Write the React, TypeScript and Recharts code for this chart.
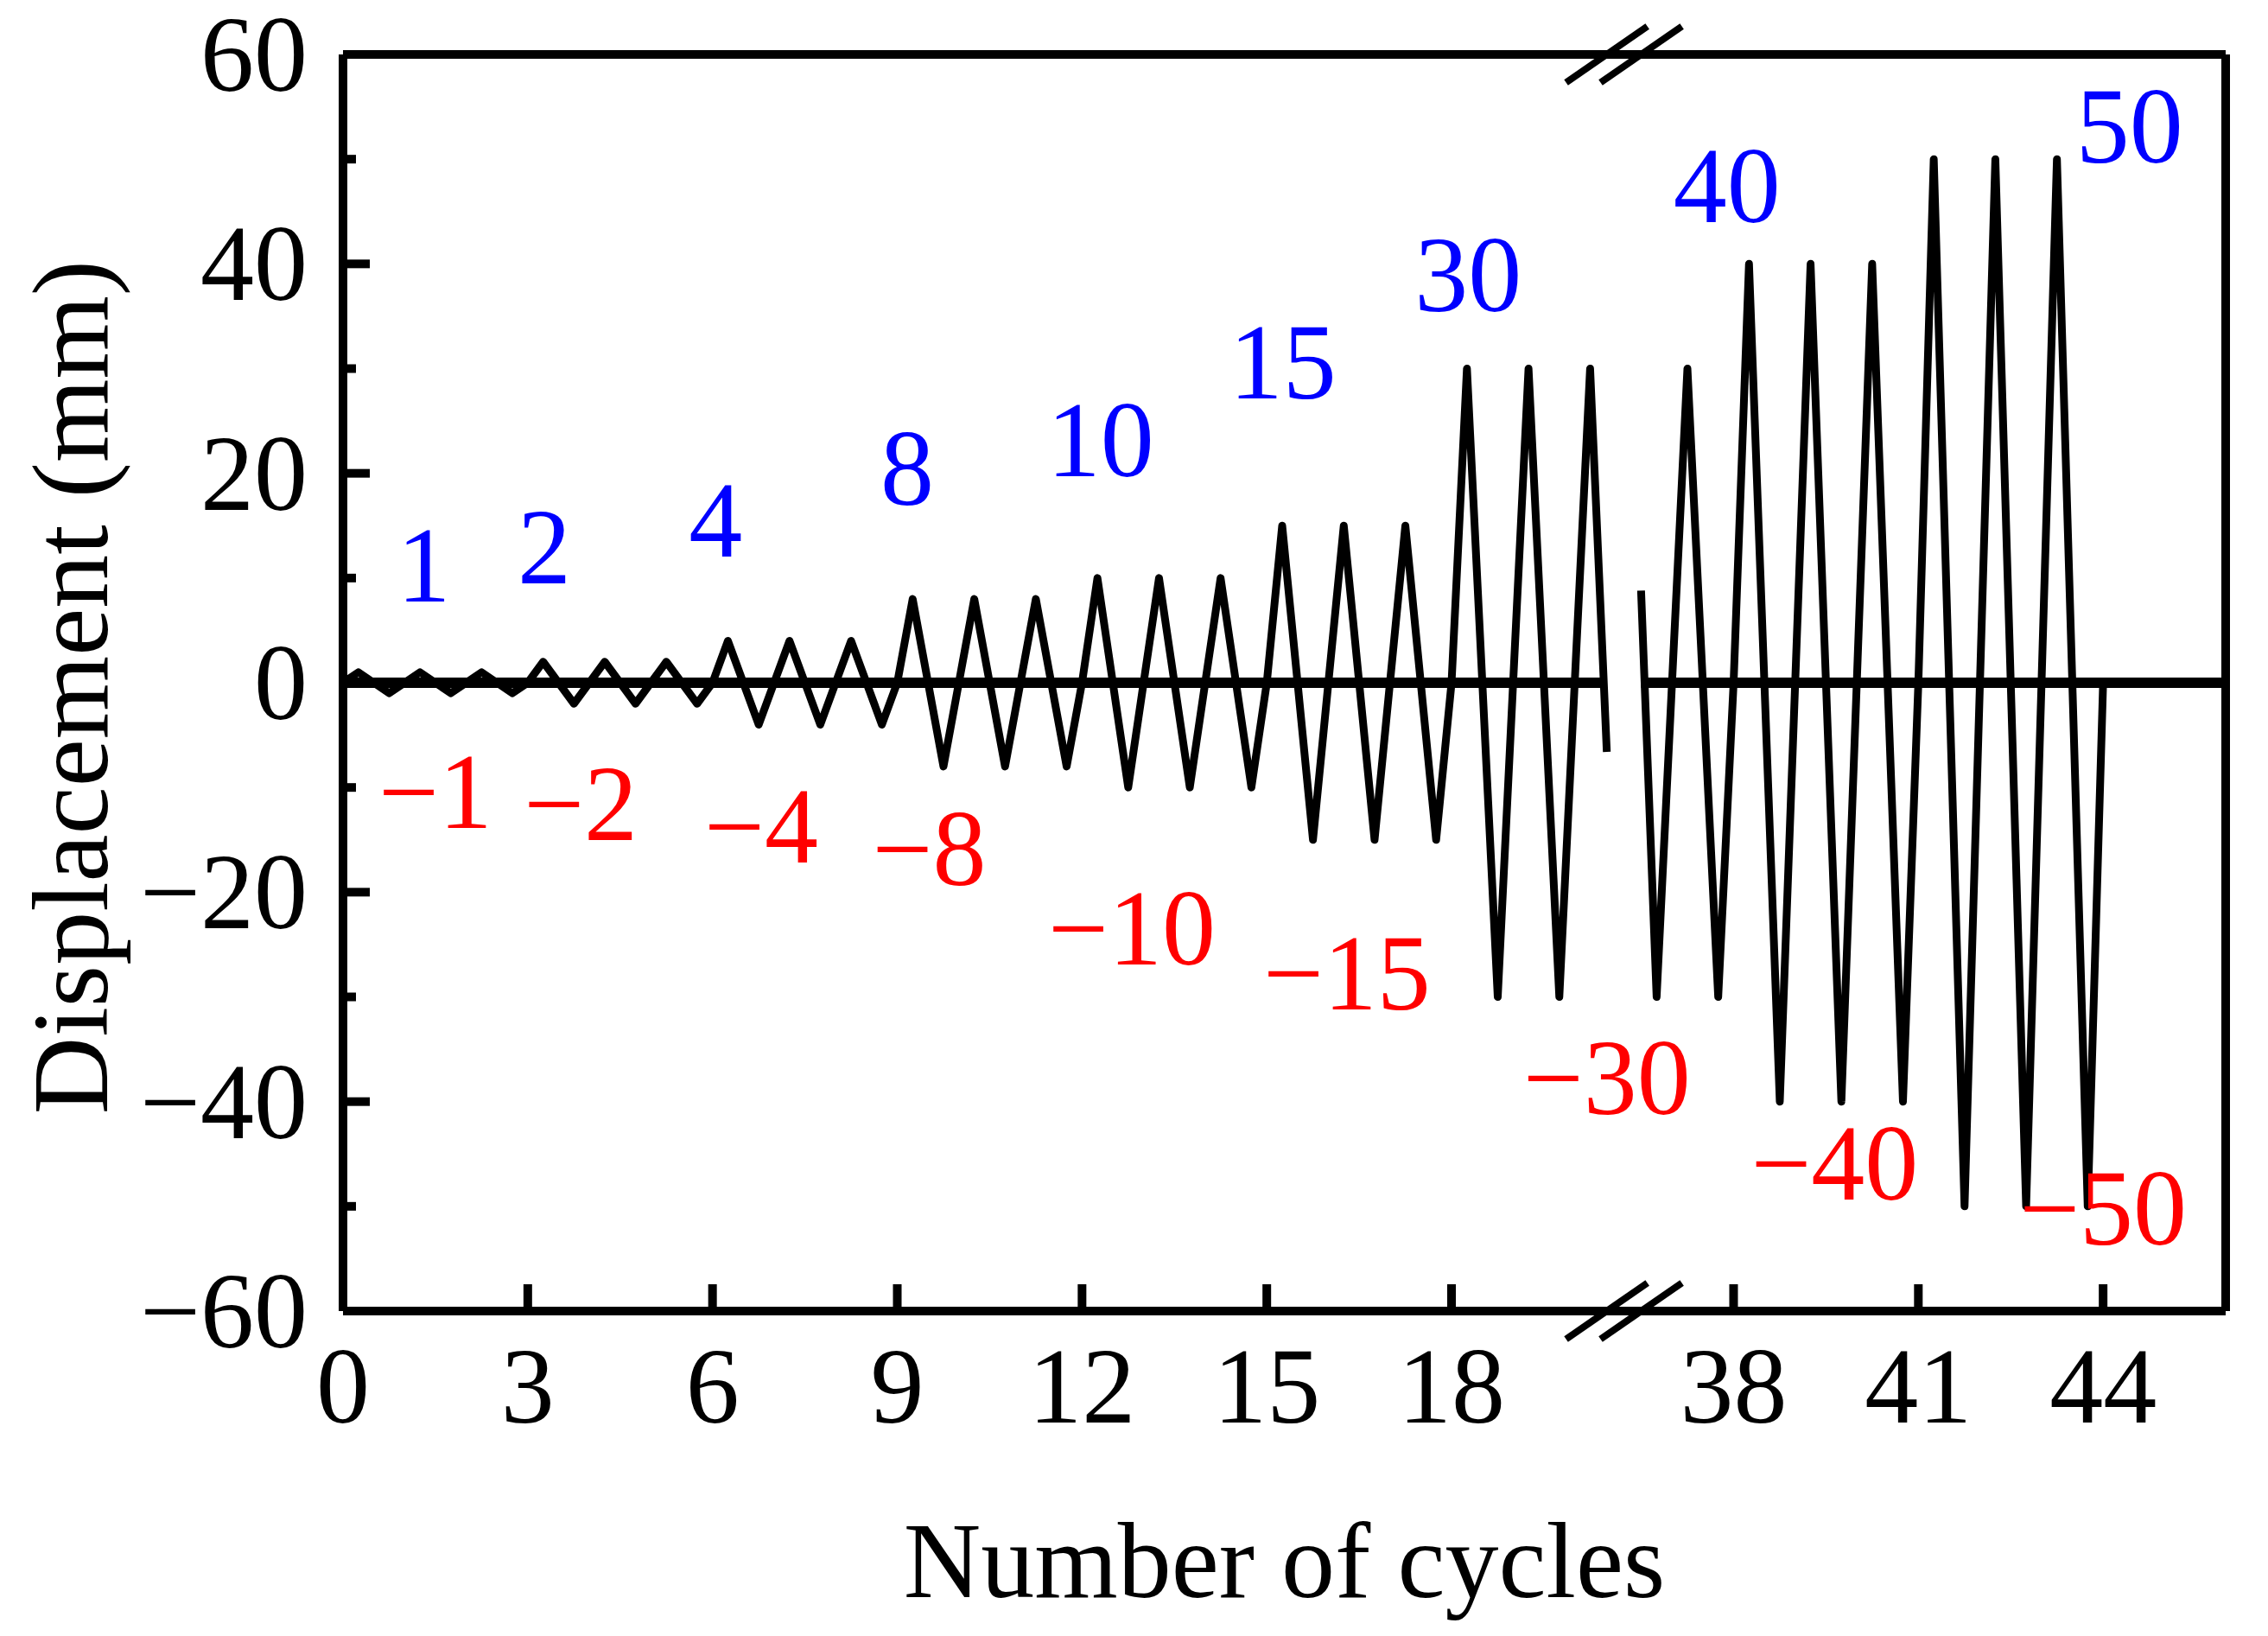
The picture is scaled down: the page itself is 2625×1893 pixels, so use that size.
import React from 'react';
import { ComposedChart, Line, Scatter, XAxis, YAxis, ReferenceLine } from 'recharts';

const ampsBeforeBreak = [1, 1, 1, 2, 2, 2, 4, 4, 4, 8, 8, 8, 10, 10, 10, 15, 15, 15, 30, 30, 30]; // cycles 0-20
const ampsAfterBreak = [30, 30, 40, 40, 40, 50, 50, 50]; // cycles 36-43
const firstCycleAfterBreak = 36;

// where the trace is cut by the axis break
const traceEndBefore = { cycle: 20.55, disp: -6.6 };
const traceStartAfter = { cycle: 36.43, disp: 8.8 };

// hidden cycle range and the gap it keeps on the axis
const breakFrom = 20.52;
const breakTo = 36.5;
const breakGap = 0.56;
const xMaxCycle = 45.99;

const xTickCycles = [0, 3, 6, 9, 12, 15, 18, 38, 41, 44];
const yMajorTicks = [-60, -40, -20, 0, 20, 40, 60];
const yMinorTicks = [-50, -30, -10, 10, 30, 50];

const positiveLabels = [
  { text: '1', cycle: 1.31, disp: 11.2 },
  { text: '2', cycle: 3.27, disp: 13.0 },
  { text: '4', cycle: 6.05, disp: 15.5 },
  { text: '8', cycle: 9.16, disp: 20.5 },
  { text: '10', cycle: 12.3, disp: 23.2 },
  { text: '15', cycle: 15.26, disp: 30.6 },
  { text: '30', cycle: 18.27, disp: 39.0 },
  { text: '40', cycle: 37.89, disp: 47.5 },
  { text: '50', cycle: 44.43, disp: 53.2 },
];

const negativeLabels = [
  { text: '\u22121', cycle: 1.5, disp: -10.4 },
  { text: '\u22122', cycle: 3.86, disp: -11.5 },
  { text: '\u22124', cycle: 6.79, disp: -13.7 },
  { text: '\u22128', cycle: 9.52, disp: -15.8 },
  { text: '\u221210', cycle: 12.81, disp: -23.4 },
  { text: '\u221215', cycle: 16.3, disp: -27.7 },
  { text: '\u221230', cycle: 20.58, disp: -37.7 },
  { text: '\u221240', cycle: 39.64, disp: -45.9 },
  { text: '\u221250', cycle: 44.0, disp: -50.2 },
];

const FONT = '"Liberation Serif", "Times New Roman", serif';
const FS = 124;

const shift = breakTo - breakFrom - breakGap;
const toAxis = (c: number) =>
  c <= breakFrom ? c : c >= breakTo ? c - shift : breakFrom + ((c - breakFrom) * breakGap) / (breakTo - breakFrom);
const fromAxis = (p: number) => (p <= breakFrom ? p : p + shift);

type Pt = { cycle: number; disp: number };

const wave = (first: number, amps: number[]): Pt[] => {
  const pts: Pt[] = [];
  amps.forEach((a, i) => {
    const n = first + i;
    pts.push({ cycle: n, disp: 0 }, { cycle: n + 0.25, disp: a }, { cycle: n + 0.75, disp: -a });
  });
  pts.push({ cycle: first + amps.length, disp: 0 });
  return pts;
};

const toRows = (pts: Pt[]) => pts.map((p) => ({ pos: toAxis(p.cycle), disp: p.disp }));

const beforeData = toRows([
  ...wave(0, ampsBeforeBreak).filter((p) => p.cycle < traceEndBefore.cycle),
  traceEndBefore,
]);
const afterData = toRows([
  traceStartAfter,
  ...wave(firstCycleAfterBreak, ampsAfterBreak).filter((p) => p.cycle > traceStartAfter.cycle),
]);

const posLabelRows = positiveLabels.map((l) => ({ pos: toAxis(l.cycle), disp: l.disp, text: l.text }));
const negLabelRows = negativeLabels.map((l) => ({ pos: toAxis(l.cycle), disp: l.disp, text: l.text }));

const xMax = toAxis(xMaxCycle);
const fmt = (v: number) => (v < 0 ? `\u2212${-v}` : `${v}`);

const Y_GAP = 41;
const X_GAP = 41;
const AXIS_W = 10;

const YTick = (props: any) => {
  const { x, y, payload } = props;
  const axisX = x + Y_GAP;
  const major = yMajorTicks.includes(payload.value);
  return (
    <g>
      <line x1={axisX} x2={axisX + (major ? 31 : 15)} y1={y} y2={y} stroke="#000" strokeWidth={AXIS_W} />
      {major && (
        <text x={x} y={y} dy="0.34em" textAnchor="end" fontSize={FS} fontFamily={FONT} fill="#000">
          {fmt(payload.value)}
        </text>
      )}
    </g>
  );
};

const XTick = (props: any) => {
  const { x, y, payload } = props;
  const axisY = y - X_GAP;
  const label = Math.round(fromAxis(payload.value));
  return (
    <g>
      {label !== 0 && <line x1={x} x2={x} y1={axisY} y2={axisY - 31} stroke="#000" strokeWidth={AXIS_W} />}
      <text x={x} y={axisY + 45} dy="0.68em" textAnchor="middle" fontSize={FS} fontFamily={FONT} fill="#000">
        {label}
      </text>
    </g>
  );
};

const XTitle = (props: any) => {
  const vb = props.viewBox ?? { x: 389, y: 1509, width: 2179, height: 368 };
  return (
    <text x={vb.x + vb.width / 2} y={vb.y + 331} textAnchor="middle" fontSize={FS} fontFamily={FONT} fill="#000">
      Number of cycles
    </text>
  );
};

const YTitle = (props: any) => {
  const vb = props.viewBox ?? { x: 0, y: 55, width: 389, height: 1454 };
  const cx = vb.x + 116;
  const cy = vb.y + vb.height / 2 + 5;
  return (
    <text
      x={cx}
      y={cy}
      transform={`rotate(-90, ${cx}, ${cy})`}
      textAnchor="middle"
      fontSize={FS}
      fontFamily={FONT}
      fill="#000"
    >
      Displacement (mm)
    </text>
  );
};

const labelShape = (color: string) => (props: any) => (
  <text x={props.cx} y={props.cy} dy="0.34em" textAnchor="middle" fontSize={FS} fontFamily={FONT} fill={color}>
    {props.payload.text}
  </text>
);

// break marks "//" on top and bottom axes
const slash = (pos: number, y: number) => [
  { x: pos - 0.66, y: y - 2.68 },
  { x: pos + 0.66, y: y + 2.68 },
];
const gapLeft = toAxis(breakFrom);
const gapRight = toAxis(breakTo);

const axisLine = { stroke: '#000', strokeWidth: AXIS_W };

export default function App() {
  return (
    <div style={{ width: 2609, height: 1877, background: '#fff' }}>
      <ComposedChart width={2609} height={1877} margin={{ top: 54, right: 40, bottom: 0, left: 0 }}>
        <XAxis
          dataKey="pos"
          type="number"
          domain={[0, xMax]}
          allowDataOverflow
          ticks={xTickCycles.map(toAxis)}
          interval={0}
          tickSize={0}
          tickMargin={X_GAP}
          tickLine={false}
          axisLine={axisLine}
          tick={<XTick />}
          height={368}
          label={XTitle}
        />
        <XAxis
          xAxisId="top"
          orientation="top"
          type="number"
          domain={[0, xMax]}
          allowDataOverflow
          height={1}
          tick={false}
          tickLine={false}
          axisLine={axisLine}
        />
        <YAxis
          type="number"
          domain={[-60, 60]}
          allowDataOverflow
          ticks={[...yMajorTicks, ...yMinorTicks].sort((a, b) => a - b)}
          interval={0}
          tickSize={0}
          tickMargin={Y_GAP}
          tickLine={false}
          axisLine={axisLine}
          tick={<YTick />}
          width={389}
          label={YTitle}
        />
        <YAxis
          yAxisId="right"
          orientation="right"
          type="number"
          domain={[-60, 60]}
          width={1}
          tick={false}
          tickLine={false}
          axisLine={axisLine}
        />

        <ReferenceLine segment={[{ x: 0, y: 0 }, { x: gapLeft, y: 0 }]} stroke="#000" strokeWidth={12} />
        <ReferenceLine segment={[{ x: gapRight, y: 0 }, { x: xMax, y: 0 }]} stroke="#000" strokeWidth={12} />

        <Line
          data={beforeData}
          dataKey="disp"
          stroke="#000"
          strokeWidth={9}
          strokeLinejoin="round"
          dot={false}
          isAnimationActive={false}
        />
        <Line
          data={afterData}
          dataKey="disp"
          stroke="#000"
          strokeWidth={9}
          strokeLinejoin="round"
          dot={false}
          isAnimationActive={false}
        />

        {[gapLeft, gapRight].flatMap((p) =>
          [60, -60].map((y) => (
            <ReferenceLine
              key={`${p}-${y}`}
              segment={slash(p, y)}
              stroke="#000"
              strokeWidth={8}
              ifOverflow="visible"
            />
          ))
        )}

        <Scatter data={posLabelRows} dataKey="disp" shape={labelShape('#0000ff')} isAnimationActive={false} />
        <Scatter data={negLabelRows} dataKey="disp" shape={labelShape('#ff0000')} isAnimationActive={false} />
      </ComposedChart>
    </div>
  );
}
